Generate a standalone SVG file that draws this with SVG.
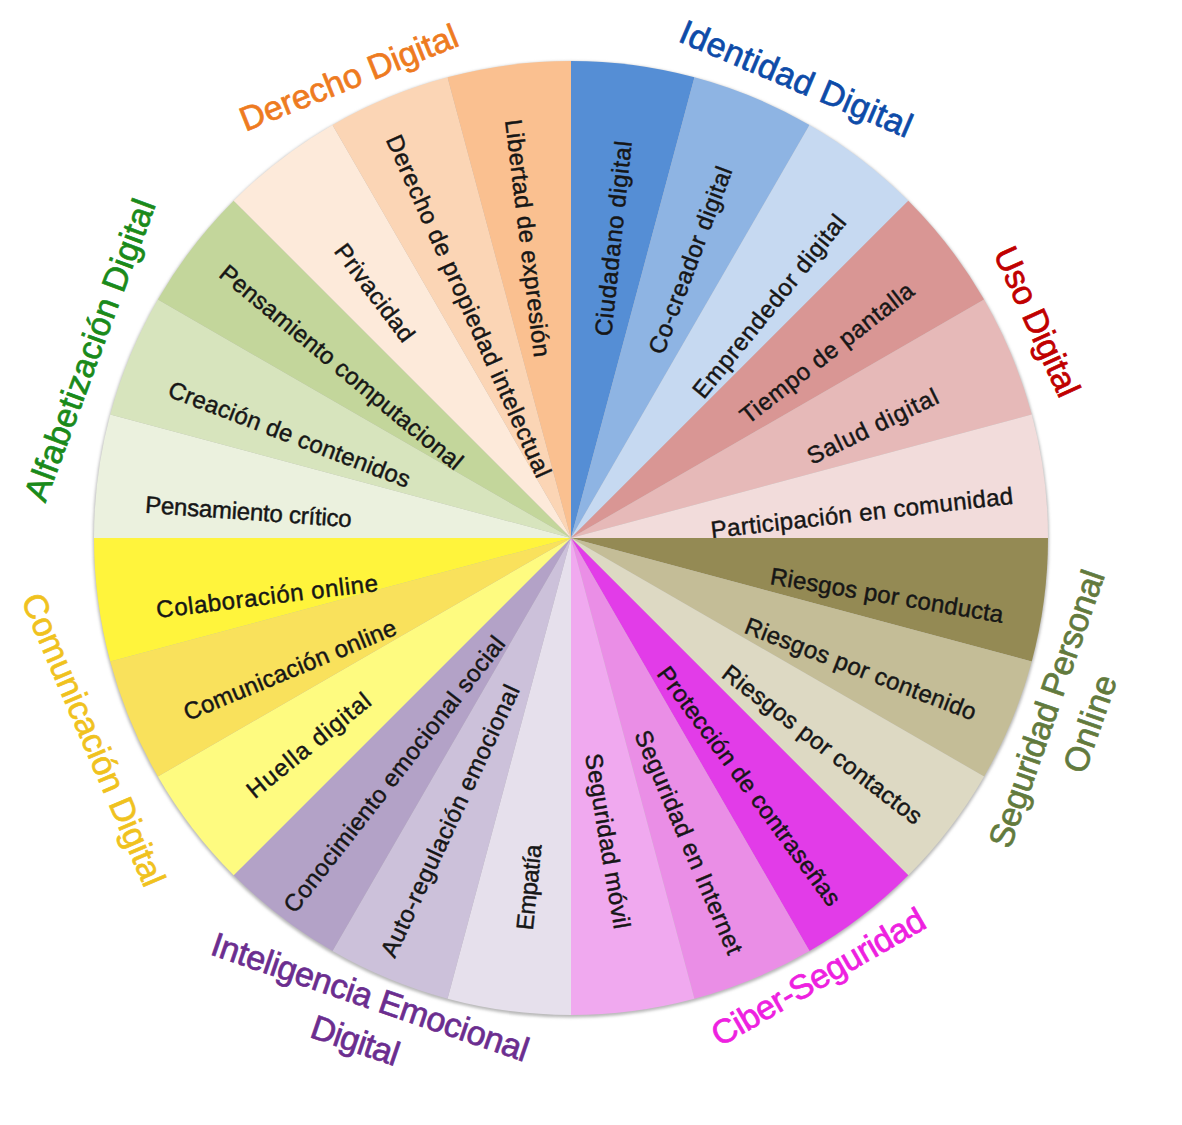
<svg xmlns="http://www.w3.org/2000/svg" width="1182" height="1125" viewBox="0 0 1182 1125">
<style>
.seg-label{font-family:"Liberation Sans",Arial,sans-serif;font-size:24px;fill:#161616;stroke:#161616;stroke-width:0.45px;text-anchor:middle;dominant-baseline:central;}
.cat{font-family:"Liberation Sans",Arial,sans-serif;font-size:34px;text-anchor:middle;stroke-width:0.7px;}
</style>
<defs>
<filter id="shadow" x="-5%" y="-5%" width="110%" height="110%">
<feGaussianBlur stdDeviation="1.5"/>
</filter>
</defs>
<rect width="1182" height="1125" fill="#ffffff"/>
<circle cx="571" cy="539.5" r="478" fill="#b8b8b8" filter="url(#shadow)"/>
<g id="connectors"></g>

<g id="seg-ciudadano"><path d="M571 538 L571 61 A477 477 0 0 1 694.46 77.25 Z" fill="#558ED5"/>
<text class="seg-label" transform="translate(613 238.5) rotate(-84)" textLength="196" lengthAdjust="spacing">Ciudadano digital</text></g>
<g id="seg-cocreador"><path d="M571 538 L694.46 77.25 A477 477 0 0 1 809.5 124.91 Z" fill="#8EB4E3"/>
<text class="seg-label" transform="translate(690 260) rotate(-69.5)" textLength="198" lengthAdjust="spacing">Co-creador digital</text></g>
<g id="seg-emprendedor"><path d="M571 538 L809.5 124.91 A477 477 0 0 1 908.29 200.71 Z" fill="#C6D9F1"/>
<text class="seg-label" transform="translate(769 306) rotate(-51)" textLength="228" lengthAdjust="spacing">Emprendedor digital</text></g>
<g id="seg-tiempo"><path d="M571 538 L908.29 200.71 A477 477 0 0 1 984.09 299.5 Z" fill="#D99694"/>
<text class="seg-label" transform="translate(826.7 352.7) rotate(-38)" textLength="213" lengthAdjust="spacing">Tiempo de pantalla</text></g>
<g id="seg-salud"><path d="M571 538 L984.09 299.5 A477 477 0 0 1 1031.75 414.54 Z" fill="#E6B9B8"/>
<text class="seg-label" transform="translate(872.5 426) rotate(-26)" textLength="143" lengthAdjust="spacing">Salud digital</text></g>
<g id="seg-participacion"><path d="M571 538 L1031.75 414.54 A477 477 0 0 1 1048 538 Z" fill="#F2DCDB"/>
<text class="seg-label" transform="translate(861.8 512.5) rotate(-6.5)" textLength="304" lengthAdjust="spacing">Participación en comunidad</text></g>
<g id="seg-conducta"><path d="M571 538 L1048 538 A477 477 0 0 1 1031.75 661.46 Z" fill="#948A54"/>
<text class="seg-label" transform="translate(887 595) rotate(9.5)" textLength="236" lengthAdjust="spacing">Riesgos por conducta</text></g>
<g id="seg-contenido"><path d="M571 538 L1031.75 661.46 A477 477 0 0 1 984.09 776.5 Z" fill="#C4BD97"/>
<text class="seg-label" transform="translate(860.8 668.7) rotate(21)" textLength="246" lengthAdjust="spacing">Riesgos por contenido</text></g>
<g id="seg-contactos"><path d="M571 538 L984.09 776.5 A477 477 0 0 1 908.29 875.29 Z" fill="#DDD9C3"/>
<text class="seg-label" transform="translate(822.6 744.3) rotate(37.5)" textLength="245" lengthAdjust="spacing">Riesgos por contactos</text></g>
<g id="seg-contrasenas"><path d="M571 538 L908.29 875.29 A477 477 0 0 1 809.5 951.09 Z" fill="#E23CE8"/>
<text class="seg-label" transform="translate(749.5 786) rotate(53.5)" textLength="291" lengthAdjust="spacing">Protección de contraseñas</text></g>
<g id="seg-internet"><path d="M571 538 L809.5 951.09 A477 477 0 0 1 694.46 998.75 Z" fill="#EA8EE6"/>
<text class="seg-label" transform="translate(689 842) rotate(67)" textLength="241" lengthAdjust="spacing">Seguridad en Internet</text></g>
<g id="seg-movil"><path d="M571 538 L694.46 998.75 A477 477 0 0 1 571 1015 Z" fill="#F0A9EF"/>
<text class="seg-label" transform="translate(608 841) rotate(80.5)" textLength="177" lengthAdjust="spacing">Seguridad móvil</text></g>
<g id="seg-empatia"><path d="M571 538 L571 1015 A477 477 0 0 1 447.54 998.75 Z" fill="#E6E0EC"/>
<text class="seg-label" transform="translate(528.7 887) rotate(-84)" textLength="86" lengthAdjust="spacing">Empatía</text></g>
<g id="seg-autoregulacion"><path d="M571 538 L447.54 998.75 A477 477 0 0 1 332.5 951.09 Z" fill="#CCC1DA"/>
<text class="seg-label" transform="translate(449.7 820.7) rotate(-65)" textLength="297" lengthAdjust="spacing">Auto-regulación emocional</text></g>
<g id="seg-conocimiento"><path d="M571 538 L332.5 951.09 A477 477 0 0 1 233.71 875.29 Z" fill="#B3A2C7"/>
<text class="seg-label" transform="translate(394 774) rotate(-52)" textLength="343" lengthAdjust="spacing">Conocimiento emocional social</text></g>
<g id="seg-huella"><path d="M571 538 L233.71 875.29 A477 477 0 0 1 157.91 776.5 Z" fill="#FEFB80"/>
<text class="seg-label" transform="translate(308.5 745) rotate(-39)" textLength="152" lengthAdjust="spacing">Huella digital</text></g>
<g id="seg-comunicacion"><path d="M571 538 L157.91 776.5 A477 477 0 0 1 110.25 661.46 Z" fill="#F9E15C"/>
<text class="seg-label" transform="translate(289.7 669.6) rotate(-22.5)" textLength="228" lengthAdjust="spacing">Comunicación online</text></g>
<g id="seg-colaboracion"><path d="M571 538 L110.25 661.46 A477 477 0 0 1 94 538 Z" fill="#FFF43C"/>
<text class="seg-label" transform="translate(267 596) rotate(-7)" textLength="223" lengthAdjust="spacing">Colaboración online</text></g>
<g id="seg-critico"><path d="M571 538 L94 538 A477 477 0 0 1 110.25 414.54 Z" fill="#EBF1DE"/>
<text class="seg-label" transform="translate(248.5 511.5) rotate(4)" textLength="207" lengthAdjust="spacing">Pensamiento crítico</text></g>
<g id="seg-creacion"><path d="M571 538 L110.25 414.54 A477 477 0 0 1 157.91 299.5 Z" fill="#D7E4BD"/>
<text class="seg-label" transform="translate(289.5 434) rotate(21)" textLength="257" lengthAdjust="spacing">Creación de contenidos</text></g>
<g id="seg-computacional"><path d="M571 538 L157.91 299.5 A477 477 0 0 1 233.71 200.71 Z" fill="#C3D69B"/>
<text class="seg-label" transform="translate(341.5 367) rotate(39.5)" textLength="307" lengthAdjust="spacing">Pensamiento computacional</text></g>
<g id="seg-privacidad"><path d="M571 538 L233.71 200.71 A477 477 0 0 1 332.5 124.91 Z" fill="#FDEADA"/>
<text class="seg-label" transform="translate(375 292.5) rotate(53)" textLength="116" lengthAdjust="spacing">Privacidad</text></g>
<g id="seg-propiedad"><path d="M571 538 L332.5 124.91 A477 477 0 0 1 447.54 77.25 Z" fill="#FBD5B5"/>
<text class="seg-label" transform="translate(469 306) rotate(66)" textLength="372" lengthAdjust="spacing">Derecho de propiedad intelectual</text></g>
<g id="seg-libertad"><path d="M571 538 L447.54 77.25 A477 477 0 0 1 571 61 Z" fill="#FAC090"/>
<text class="seg-label" transform="translate(528 238) rotate(83)" textLength="239" lengthAdjust="spacing">Libertad de expresión</text></g>

<g id="cat-derecho"><text class="cat" fill="#EE7B1F" stroke="#EE7B1F" transform="translate(353.2 88.4) rotate(-21.9)" textLength="232" lengthAdjust="spacing">Derecho Digital</text></g>
<g id="cat-identidad"><text class="cat" fill="#0D4BA8" stroke="#0D4BA8" transform="translate(791.6 89.5) rotate(23)" textLength="249" lengthAdjust="spacing">Identidad Digital</text></g>
<g id="cat-uso"><text class="cat" fill="#C00000" stroke="#C00000" transform="translate(1026.5 326.5) rotate(65.5)" textLength="161" lengthAdjust="spacing">Uso Digital</text></g>
<g id="cat-seguridad-personal"><text class="cat" fill="#627A3D" stroke="#627A3D" transform="translate(1057.5 712.5) rotate(-70.9)"><tspan x="0" y="0" textLength="291" lengthAdjust="spacing">Seguridad Personal</tspan><tspan x="0" y="46" textLength="101" lengthAdjust="spacing">Online</tspan></text></g>
<g id="cat-ciber"><text class="cat" fill="#EE20E0" stroke="#EE20E0" transform="translate(824 987) rotate(-30)" textLength="241" lengthAdjust="spacing">Ciber-Seguridad</text></g>
<g id="cat-inteligencia"><text class="cat" fill="#6B2D8F" stroke="#6B2D8F" transform="translate(366.5 1007.9) rotate(18.9)"><tspan x="0" y="0" textLength="333" lengthAdjust="spacing">Inteligencia Emocional</tspan><tspan x="0" y="46" textLength="91" lengthAdjust="spacing">Digital</tspan></text></g>
<g id="cat-comunicacion"><text class="cat" fill="#F0C21E" stroke="#F0C21E" transform="translate(82.8 744.3) rotate(66.8)" textLength="315" lengthAdjust="spacing">Comunicación Digital</text></g>
<g id="cat-alfabetizacion"><text class="cat" fill="#1A8A1A" stroke="#1A8A1A" transform="translate(100.7 354) rotate(-69.7)" textLength="319" lengthAdjust="spacing">Alfabetización Digital</text></g>
</svg>
